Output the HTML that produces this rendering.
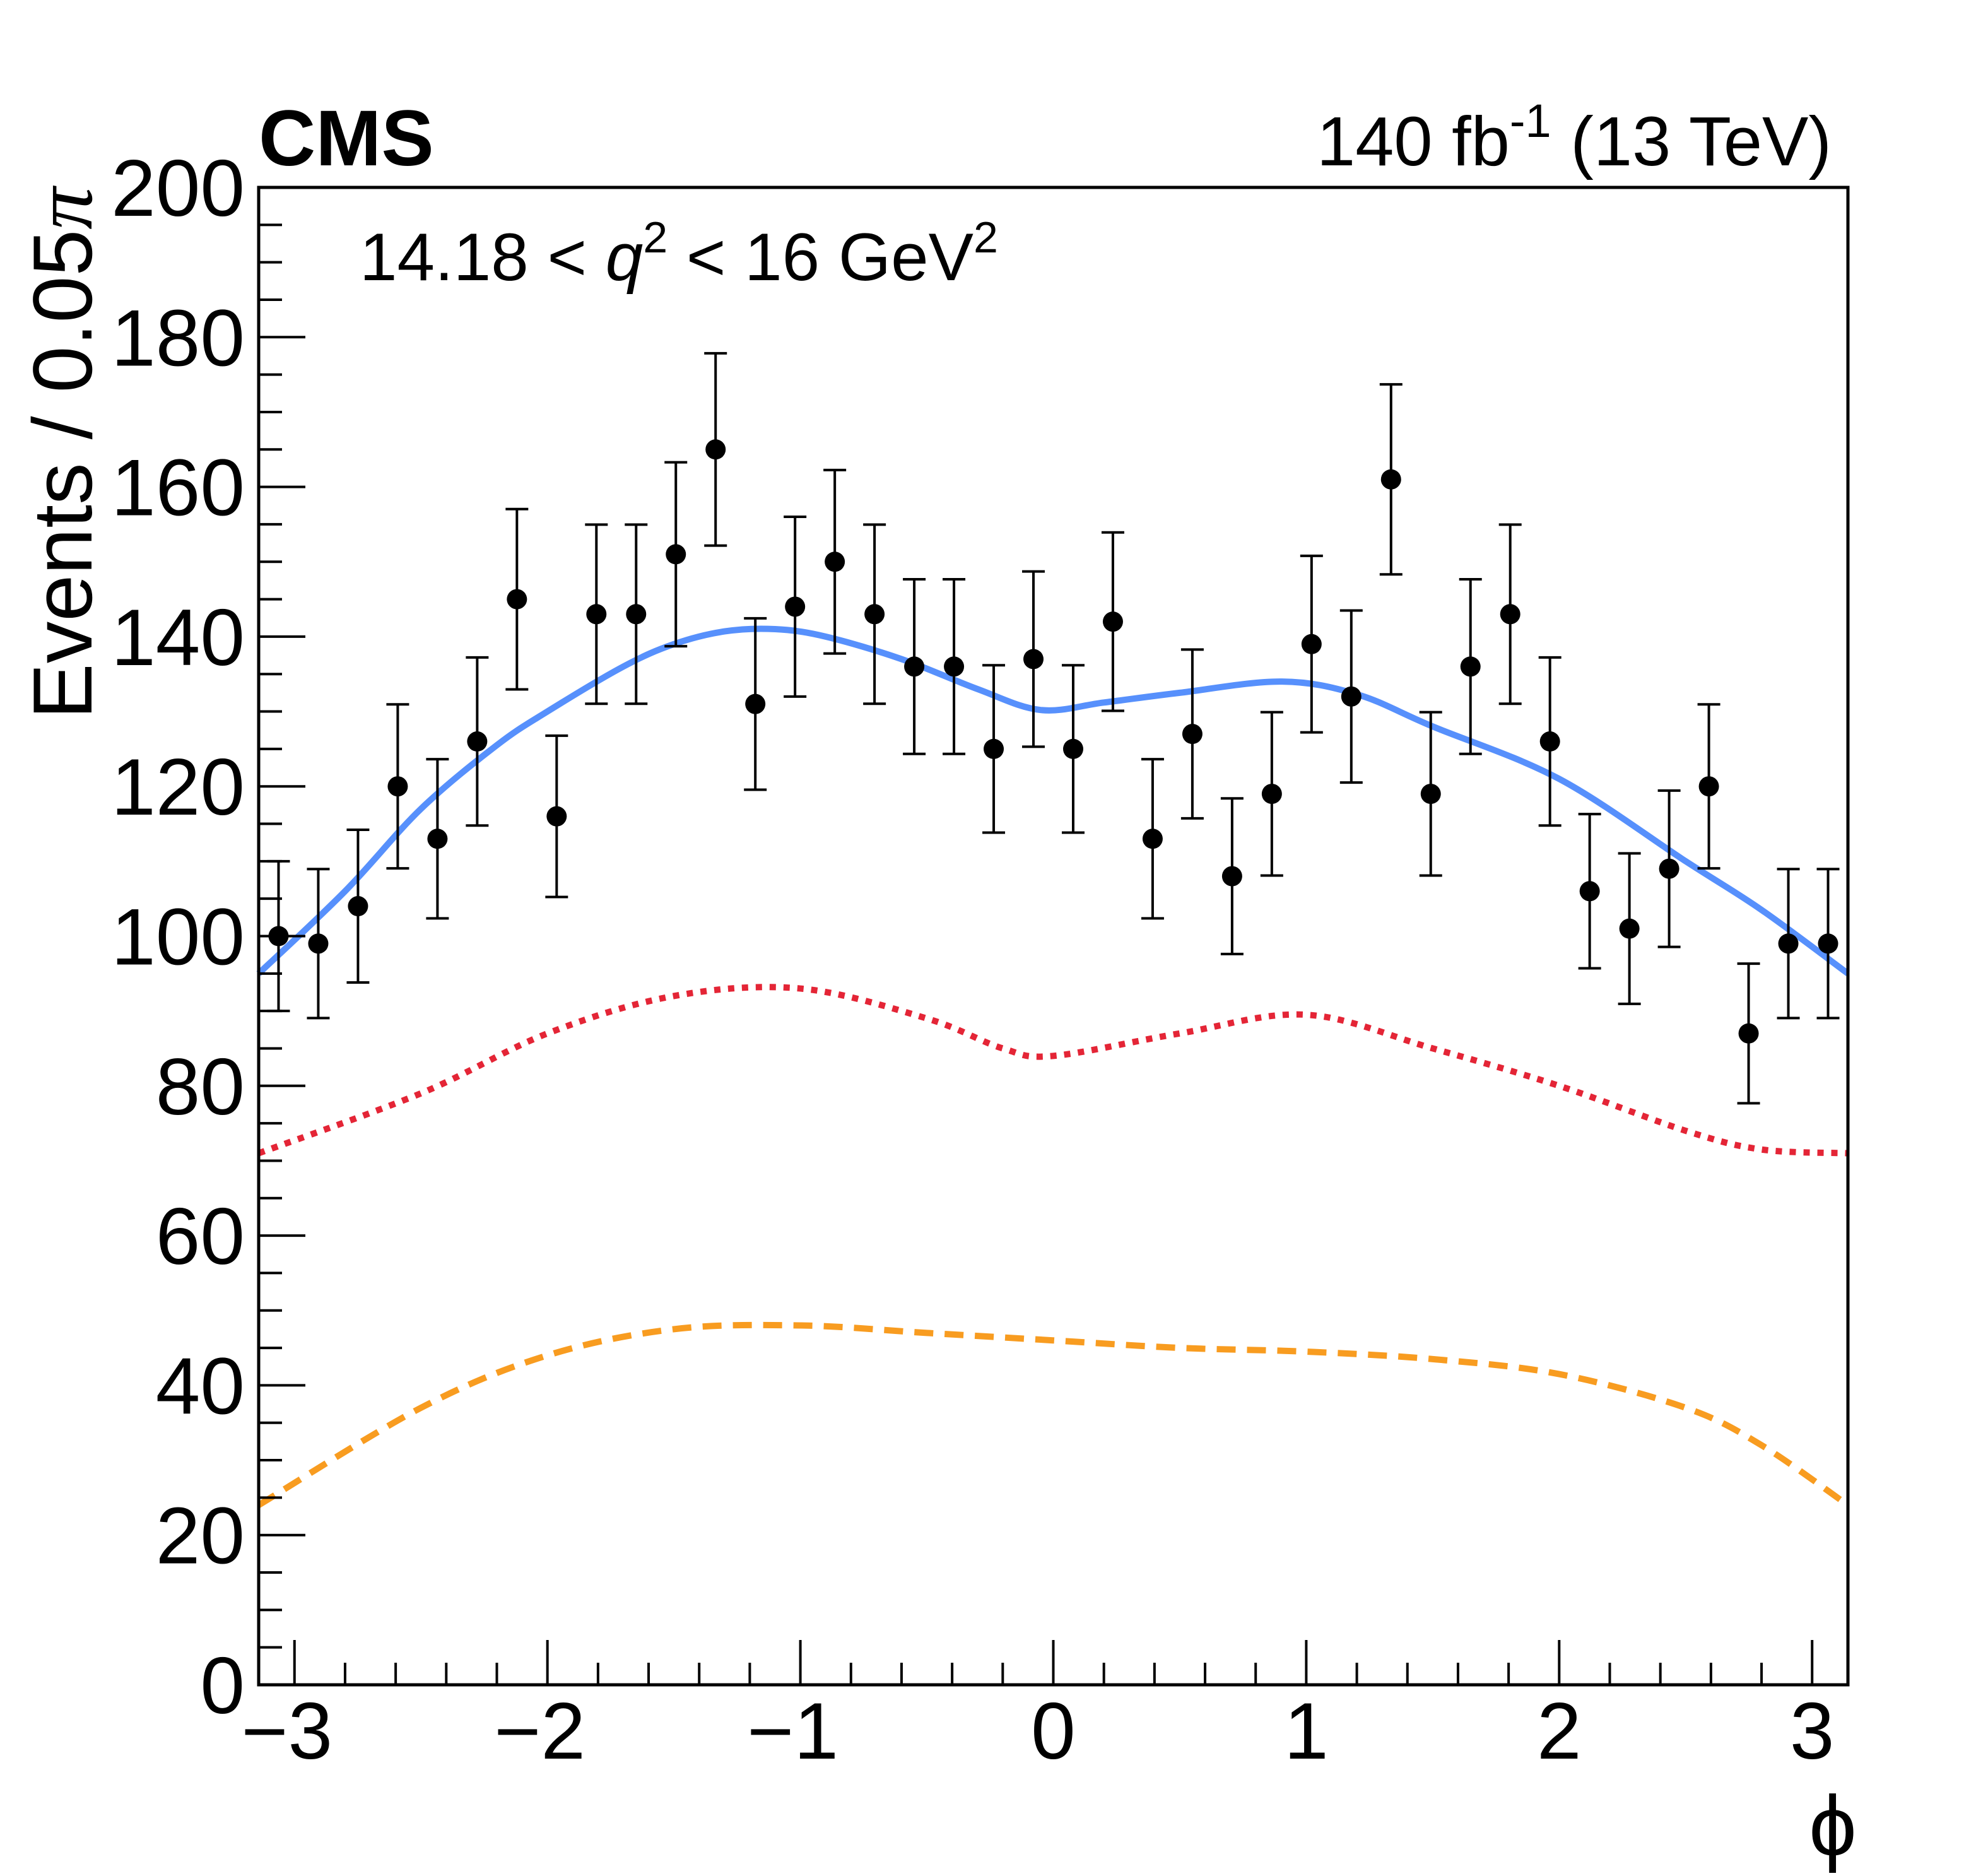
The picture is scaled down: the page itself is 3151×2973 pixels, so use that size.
<!DOCTYPE html>
<html><head><meta charset="utf-8"><style>
html,body{margin:0;padding:0;background:#fff}
svg text{font-family:"Liberation Sans",sans-serif}
</style></head><body>
<svg id="chart" width="3151" height="2968" viewBox="0 0 3151 2968" xmlns="http://www.w3.org/2000/svg">
<rect width="3151" height="2968" fill="#fff"/>
<g id="curves"></g>
<g id="points"></g>
<g id="axes"></g>
<text x="410" y="262" font-size="125" font-weight="bold">CMS</text>
<text x="2903" y="262" font-size="110" text-anchor="end">140 fb<tspan font-size="74" dy="-45">-1</tspan><tspan dy="45"> (13 TeV)</tspan></text>
<text x="570" y="444" font-size="107">14.18 &lt; <tspan font-style="italic">q</tspan><tspan font-size="70" dy="-44">2</tspan><tspan dy="44"> &lt; 16 GeV</tspan><tspan font-size="70" dy="-44">2</tspan></text>
<text transform="translate(145,297) rotate(-90)" font-size="133" text-anchor="end">Events / 0.05<tspan font-family="Liberation Serif,serif" font-style="italic">π</tspan></text>
<text x="2905" y="2940" font-size="135" font-family="Liberation Serif,serif" text-anchor="middle">ϕ</text>
</svg>
<script>
const yTicks=[0,20,40,60,80,100,120,140,160,180,200];
const xTicks=[-3,-2,-1,0,1,2,3];
const counts=[100,99,104,120,113,126,145,116,143,143,151,165,131,144,150,143,136,136,125,137,125,142,113,127,108,119,139,132,161,119,136,143,126,106,101,109,120,87,99,99];
const totalX=[-3.1416,-2.8,-2.5,-2.2,-2,-1.7,-1.5,-1.3,-1.1,-0.9,-0.6,-0.3,-0.05,0.2,0.5,0.9,1.2,1.5,2,2.5,2.8,3.1416];
const totalY=[95,106,117,125.5,130,136,139,140.7,141,140,137,133,130.2,131.2,132.5,134,132.3,128,121,110,103.5,95];
const sigX=[-3.1416,-2.5,-2,-1.5,-1,-0.5,-0.2,0,0.5,1,1.5,2,2.5,2.8,3.1416];
const sigY=[71,79,87,92,93,89,85,84,87,89.5,85,80,74,71.5,71];
const bkgX=[-3.1416,-2.5,-2,-1.5,-1,-0.5,0,0.5,1,1.5,2,2.5,2.8,3.1416];
const bkgY=[24,37,44,47.5,48,47,46,45,44.5,43.5,41.5,37,32,24];

const L=410,R=2929,T=297,B=2670,PI=Math.PI;
const sx=v=>L+(v+PI)/(2*PI)*(R-L);
const sy=v=>B-v/200*(B-T);
const NS="http://www.w3.org/2000/svg";
function mk(tag,attrs,parent){const e=document.createElementNS(NS,tag);for(const k in attrs)e.setAttribute(k,attrs[k]);parent.appendChild(e);return e;}
const axes=document.getElementById('axes'),pts=document.getElementById('points'),cv=document.getElementById('curves');

function smooth(xs,ys){
  const p=xs.map((x,i)=>[sx(x),sy(ys[i])]);
  let d=`M${p[0][0]},${p[0][1]}`;
  for(let i=0;i<p.length-1;i++){
    const p0=p[Math.max(0,i-1)],p1=p[i],p2=p[i+1],p3=p[Math.min(p.length-1,i+2)];
    const c1=[p1[0]+(p2[0]-p0[0])/6,p1[1]+(p2[1]-p0[1])/6];
    const c2=[p2[0]-(p3[0]-p1[0])/6,p2[1]-(p3[1]-p1[1])/6];
    d+=`C${c1[0]},${c1[1]} ${c2[0]},${c2[1]} ${p2[0]},${p2[1]}`;
  }
  return d;
}
let e;
e=mk('path',{d:smooth(bkgX,bkgY),fill:'none',stroke:'#f89c20','stroke-width':10,'stroke-dasharray':'30 18'},cv);


e=mk('path',{d:smooth(sigX,sigY),fill:'none',stroke:'#e42536','stroke-width':10,'stroke-dasharray':'10 12'},cv);


e=mk('path',{d:smooth(totalX,totalY),fill:'none',stroke:'#5790fc','stroke-width':10},cv);



const n=counts.length,w=2*PI/n;
counts.forEach((c,i)=>{
  const xc=-PI+w*(i+0.5),X=sx(xc),err=Math.sqrt(c);
  const g=mk('g',{},pts);
  
  
  mk('line',{x1:X,x2:X,y1:sy(c+err),y2:sy(c-err),stroke:'#000','stroke-width':4},g);
  mk('line',{x1:X-18,x2:X+18,y1:sy(c+err),y2:sy(c+err),stroke:'#000','stroke-width':4},g);
  mk('line',{x1:X-18,x2:X+18,y1:sy(c-err),y2:sy(c-err),stroke:'#000','stroke-width':4},g);
  mk('circle',{cx:X,cy:sy(c),r:16,fill:'#000'},g);
});

e=mk('rect',{x:L,y:T,width:R-L,height:B-T,fill:'none',stroke:'#000','stroke-width':5},axes);


for(let v=0;v<=200;v+=5){
  const maj=v%20===0;
  mk('line',{x1:L,x2:L+(maj?74:37),y1:sy(v),y2:sy(v),stroke:'#000','stroke-width':4},axes);
}
yTicks.forEach(v=>{
  const t=mk('text',{x:388,y:sy(v)+45,'font-size':127,'text-anchor':'end'},axes);
  t.textContent=v;
  
  
});
for(let k=-16;k<=16;k++){
  const v=k*0.2;if(v<-PI||v>PI)continue;
  const maj=k%5===0;
  mk('line',{x1:sx(v),x2:sx(v),y1:B,y2:B-(maj?71:35),stroke:'#000','stroke-width':4},axes);
}
xTicks.forEach(v=>{
  const t=mk('text',{x:sx(v)+(v<0?-12:0),y:2787,'font-size':127,'text-anchor':'middle'},axes);
  t.textContent=v<0?'\u2212'+(-v):String(v);
  
  
});
</script>
</body></html>
